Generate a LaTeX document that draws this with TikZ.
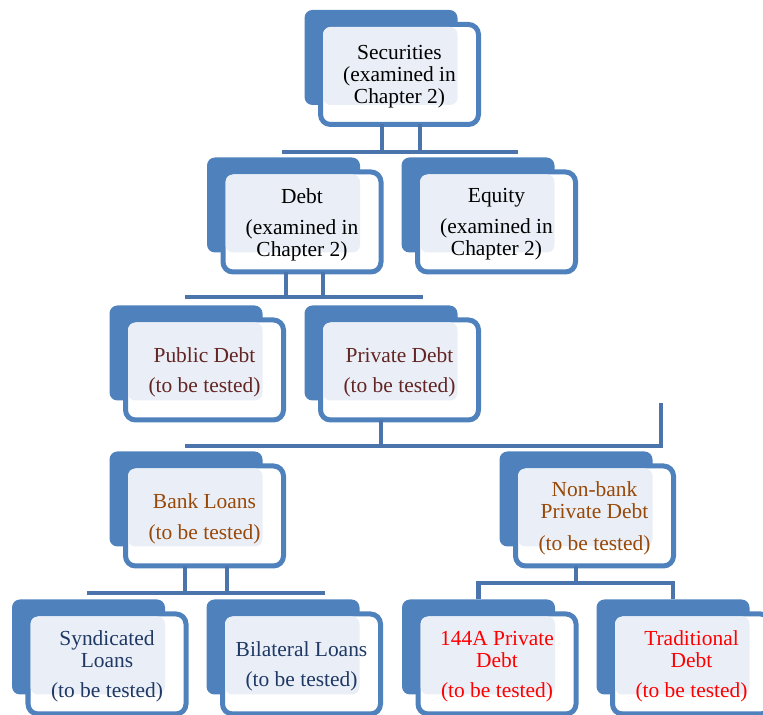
\documentclass[tikz,border=0pt]{standalone}
\usepackage{fontspec}
\setmainfont{Liberation Serif}
\usepackage{xcolor}
\usepackage{tikz}
\usetikzlibrary{calc}

\definecolor{boxblue}{HTML}{4F81BD}
\definecolor{linkblue}{HTML}{4A74AB}
\definecolor{panelblue}{HTML}{EAEFF7}
\definecolor{txtred}{HTML}{632523}
\definecolor{txtbrown}{HTML}{984807}
\definecolor{txtnavy}{HTML}{1F3864}
\definecolor{txtbright}{HTML}{FF0000}

% one chart box: name, centre, text colour, text
\newcommand{\orgbox}[4]{%
    \node[backbox] (#1-bk) at ($(#2)+(-0.37,0.34)$) {};
    \node[frontbox] (#1) at (#2) {};
    \fill[panelblue, rounded corners=0.15cm] ($(#1.north west)+(0.05,-0.05)$) rectangle (#1-bk.south east);
    \node[boxtext, text=#3] (#1-txt) at ($(#1)+(0,-0.05)$) {#4};
}

\begin{document}
\begin{tikzpicture}[
        backbox/.style={
            fill=boxblue,
            rounded corners=0.16cm,
            minimum width=3.06cm,
            minimum height=1.9cm,
            inner sep=0pt,
            outer sep=0pt
        },
        frontbox/.style={
            draw=boxblue,
            fill=white,
            line width=0.1cm,
            rounded corners=0.2cm,
            minimum width=3.16cm,
            minimum height=2cm,
            inner sep=0pt,
            outer sep=0pt
        },
        boxtext/.style={
            align=center,
            inner sep=0pt,
            font=\fontsize{12.2}{12.5}\selectfont
        },
        link/.style={
            draw=linkblue,
            line width=0.09cm
        }
    ]
    \clip (0,0) rectangle (15.26,-14.3);

    % connectors first
    \coordinate (j1a) at (5.64,-3.04);
    \coordinate (j1b) at (10.36,-3.04);
    \coordinate (j2a) at (3.70,-5.94);
    \coordinate (j2b) at (8.46,-5.94);
    \coordinate (j3a) at (3.70,-8.92);
    \coordinate (j3b) at (13.22,-8.92);
    \coordinate (j3end) at (13.22,-8.06);
    \coordinate (j4a) at (1.74,-11.86);
    \coordinate (j4b) at (6.50,-11.86);
    \coordinate (j5) at (11.52,-11.66);

    \orgbox{sec}{7.99,-1.49}{black}{Securities\\(examined in\\Chapter 2)}
    \orgbox{debt}{6.04,-4.44}{black}{Debt\\[0.18cm](examined in\\Chapter 2)}
    \orgbox{equity}{9.93,-4.44}{black}{Equity\\[0.18cm](examined in\\Chapter 2)}
    \orgbox{public}{4.09,-7.40}{txtred}{Public Debt\\[0.16cm](to be tested)}
    \orgbox{private}{7.99,-7.40}{txtred}{Private Debt\\[0.16cm](to be tested)}
    \orgbox{bank}{4.09,-10.32}{txtbrown}{Bank Loans\\[0.18cm](to be tested)}
    \orgbox{nonbank}{11.89,-10.32}{txtbrown}{Non-bank\\Private Debt\\[0.2cm](to be tested)}
    \orgbox{synd}{2.14,-13.28}{txtnavy}{Syndicated\\Loans\\[0.16cm](to be tested)}
    \orgbox{bilat}{6.03,-13.28}{txtnavy}{Bilateral Loans\\[0.16cm](to be tested)}
    \orgbox{rule}{9.94,-13.28}{txtbright}{144A Private\\Debt\\[0.16cm](to be tested)}
    \orgbox{trad}{13.83,-13.28}{txtbright}{Traditional\\Debt\\[0.16cm](to be tested)}

    % securities -> debt, equity
    \draw[link] (j1a) -- (j1b);
    \draw[link] ([xshift=-0.35cm]sec.south) -- ([xshift=-0.35cm]sec.south |- j1a);
    \draw[link] ([xshift=0.41cm]sec.south) -- ([xshift=0.41cm]sec.south |- j1a);

    % debt -> public, private
    \draw[link] (j2a) -- (j2b);
    \draw[link] ([xshift=-0.32cm]debt.south) -- ([xshift=-0.32cm]debt.south |- j2a);
    \draw[link] ([xshift=0.42cm]debt.south) -- ([xshift=0.42cm]debt.south |- j2a);

    % private -> bank, non-bank
    \draw[link] (j3a) -- (j3b) -- (j3end);
    \draw[link] ([xshift=-0.37cm]private.south) -- ([xshift=-0.37cm]private.south |- j3a);

    % bank -> syndicated, bilateral
    \draw[link] (j4a) -- (j4b);
    \draw[link] ([xshift=-0.39cm]bank.south) -- ([xshift=-0.39cm]bank.south |- j4a);
    \draw[link] ([xshift=0.45cm]bank.south) -- ([xshift=0.45cm]bank.south |- j4a);

    % non-bank -> 144A, traditional
    \draw[link] ([xshift=-0.37cm]nonbank.south) -- (j5);
    \draw[link] (rule-bk.north) |- (j5) -| (trad-bk.north);

\end{tikzpicture}
\end{document}
